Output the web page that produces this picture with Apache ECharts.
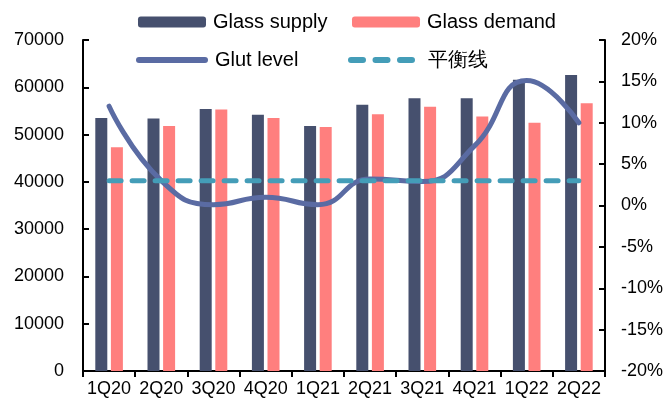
<!DOCTYPE html>
<html>
<head>
<meta charset="utf-8">
<script src="https://cdn.jsdelivr.net/npm/echarts@6/dist/echarts.min.js"></script>
<style>
html,body{margin:0;padding:0;background:#fff;}
#chart{width:669px;height:405px;}
</style>
</head>
<body>
<div id="chart"></div>
<script>
const categories = ['1Q20','2Q20','3Q20','4Q20','1Q21','2Q21','3Q21','4Q21','1Q22','2Q22'];
const glassSupply = [53500, 53400, 55400, 54200, 51800, 56300, 57700, 57700, 61600, 62600];
const glassDemand = [47300, 51800, 55300, 53500, 51600, 54300, 55900, 53800, 52500, 56600];
const glutLevel = [12.0, 3.0, 0.1, 1.0, 0.1, 3.2, 2.9, 7.2, 15.1, 10.0];
const balanceLine = [3, 3, 3, 3, 3, 3, 3, 3, 3, 3];
const leftTicks = {min: 0, max: 70000, interval: 10000};
const rightTicks = {min: -20, max: 20, interval: 5};

const FONT = "'Liberation Sans', Arial, sans-serif";
const C_SUPPLY = '#46506E';
const C_DEMAND = '#FF7F7E';
const C_GLUT = '#5A6BA3';
const C_BAL = '#449DB8';

const ICON_SOLID = 'path://M3,0 L69,0 A3,3 0 0 1 69,6 L3,6 A3,3 0 0 1 3,0 Z';
const ICON_DASH = 'path://M3,0 L15,0 A3,3 0 0 1 15,6 L3,6 A3,3 0 0 1 3,0 Z ' +
  'M27.5,0 L39.5,0 A3,3 0 0 1 39.5,6 L27.5,6 A3,3 0 0 1 27.5,0 Z ' +
  'M52,0 L64,0 A3,3 0 0 1 64,6 L52,6 A3,3 0 0 1 52,0 Z';

const chart = echarts.init(document.getElementById('chart'), null, {renderer: 'canvas'});

function leg(name, left, top, iw, ih, icon, pad) {
  return {
    data: [icon ? {name: name, icon: icon} : name], left: left, top: top, padding: 0,
    itemWidth: iw, itemHeight: ih, itemGap: 0,
    textStyle: {fontFamily: FONT, fontSize: 20, color: '#000', padding: [0, 0, 0, pad || 2]},
    selectedMode: false
  };
}

const axisLineStyle = {show: true, lineStyle: {color: '#000', width: 2}};

chart.setOption({
  animation: false,
  backgroundColor: '#fff',
  grid: {left: 83, right: 64, top: 40, bottom: 34, containLabel: false},
  legend: [
    leg('Glass supply', 138, 12, 68, 11),
    leg('Glass demand', 352, 12, 68, 11),
    leg('Glut level', 136, 50, 72, 6, ICON_SOLID),
    leg('平衡线', 348, 50, 67, 6, ICON_DASH, 8)
  ],
  xAxis: {
    type: 'category',
    data: categories,
    axisLine: axisLineStyle,
    axisTick: {show: true, length: 6, lineStyle: {color: '#000', width: 2}},
    axisLabel: {fontFamily: FONT, fontSize: 18, color: '#000', margin: 9, interval: 0}
  },
  yAxis: [
    {
      type: 'value', min: leftTicks.min, max: leftTicks.max, interval: leftTicks.interval,
      axisLine: axisLineStyle,
      axisTick: {show: true, inside: true, length: 6, lineStyle: {color: '#000', width: 2}},
      splitLine: {show: false},
      axisLabel: {fontFamily: FONT, fontSize: 18, color: '#000', margin: 19,
        formatter: function (v) { return String(v); }}
    },
    {
      type: 'value', min: rightTicks.min, max: rightTicks.max, interval: rightTicks.interval,
      position: 'right',
      axisLine: axisLineStyle,
      axisTick: {show: true, inside: true, length: 6, lineStyle: {color: '#000', width: 2}},
      splitLine: {show: false},
      axisLabel: {fontFamily: FONT, fontSize: 18, color: '#000', margin: 16, formatter: '{value}%'}
    }
  ],
  series: [
    {
      name: 'Glass supply', type: 'bar', data: glassSupply, yAxisIndex: 0,
      barWidth: 12, barGap: '30%',
      itemStyle: {color: C_SUPPLY}
    },
    {
      name: 'Glass demand', type: 'bar', data: glassDemand, yAxisIndex: 0,
      barWidth: 12, barGap: '30%',
      itemStyle: {color: C_DEMAND}
    },
    {
      name: 'Glut level', type: 'line', data: glutLevel, yAxisIndex: 1,
      smooth: 0.5, symbol: 'none',
      lineStyle: {color: C_GLUT, width: 5, cap: 'round'},
      itemStyle: {color: C_GLUT},
      z: 3
    },
    {
      name: '平衡线', type: 'line', data: balanceLine, yAxisIndex: 1,
      symbol: 'none',
      lineStyle: {color: C_BAL, width: 5, type: [12, 11], cap: 'round'},
      itemStyle: {color: C_BAL},
      z: 4
    }
  ]
});
</script>
</body>
</html>
